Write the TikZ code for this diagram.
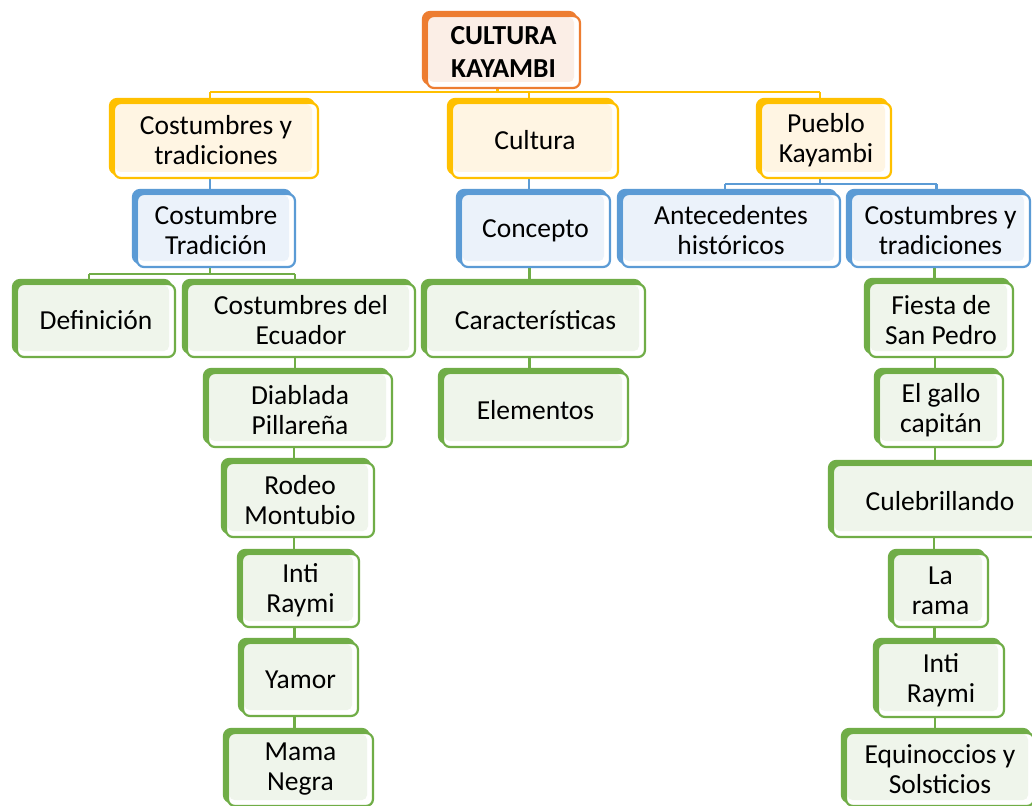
\documentclass[tikz,border=0pt]{standalone}
\usepackage{fontspec}
\setmainfont{Carlito}
\usetikzlibrary{shadows}
\definecolor{cOr}{HTML}{ED7D31}
\definecolor{fOr}{HTML}{FBEEE6}
\definecolor{cYe}{HTML}{FFC000}
\definecolor{fYe}{HTML}{FFF5E3}
\definecolor{cBl}{HTML}{5B9BD5}
\definecolor{fBl}{HTML}{EBF2FA}
\definecolor{cGr}{HTML}{70AD47}
\definecolor{fGr}{HTML}{EFF5EB}
\pgfdeclarelayer{bg}
\pgfdeclarelayer{paper}
\pgfsetlayers{paper,bg,main}
\tikzset{
  box/.style 2 args={draw=#1, line width=2.2pt, fill=white, rounded corners=7pt,
    general shadow={fill=#1, draw=#1, shadow xshift=-4pt, shadow yshift=4pt},
    path picture={\fill[#2, rounded corners=5pt]
      ([shift={(1.5pt,-1.5pt)}]path picture bounding box.north west) rectangle
      ([shift={(-6pt,6pt)}]path picture bounding box.south east);},
    inner sep=0pt, align=center, font=\fontsize{27.5}{30}\selectfont},
  ob/.style={box={cOr}{fOr}},
  yb/.style={box={cYe}{fYe}},
  bb/.style={box={cBl}{fBl}},
  gb/.style={box={cGr}{fGr}},
  ly/.style={draw=cYe, line width=2.6pt},
  lb/.style={draw=cBl, line width=2.4pt},
  lg/.style={draw=cGr, line width=2.4pt},
  sz/.style 2 args={minimum width=#1pt, minimum height=#2pt}
}
\begin{document}
\begin{tikzpicture}[x=1pt,y=-1pt]
\useasboundingbox (0,0) rectangle (1032,805);
\begin{pgfonlayer}{paper}
\fill[white] (0,0) rectangle (1032,805);
\end{pgfonlayer}
% root
\node[ob, sz={153}{72}, font=\fontsize{27.5}{33}\selectfont\bfseries] (ck) at (503.5,52) {CULTURA\\KAYAMBI};
% level 1
\node[yb, sz={204}{75}] (cyt1) at (216,140.5) {Costumbres y\\tradiciones};
\node[yb, sz={166}{75}] (cul) at (535,140.5) {Cultura};
\node[yb, sz={130}{75}] (pk) at (826,140.5) {Pueblo\\Kayambi};
% level 2
\node[bb, sz={158}{73}] (ct) at (216,230.5) {Costumbre\\Tradición};
\node[bb, sz={149}{73}] (con) at (535.5,230.5) {Concepto};
\node[bb, sz={218}{73}] (ant) at (731,230.5) {Antecedentes\\históricos};
\node[bb, sz={179}{73}] (cyt2) at (940.5,230.5) {Costumbres y\\tradiciones};
% green
\node[gb, sz={158}{73}] (def) at (96,320.5) {Definición};
\node[gb, sz={228}{73}] (ced) at (301,320.5) {Costumbres del\\Ecuador};
\node[gb, sz={219}{73}] (car) at (535.5,320.5) {Características};
\node[gb, sz={144}{74}] (fsp) at (941,320) {Fiesta de\\San Pedro};
\node[gb, sz={184}{74}] (dp) at (300,410) {Diablada\\Pillareña};
\node[gb, sz={185}{74}] (ele) at (535.5,410) {Elementos};
\node[gb, sz={124}{74}] (egc) at (941,410) {El gallo\\capitán};
\node[gb, sz={148}{74}] (rm) at (300,500) {Rodeo\\Montubio};
\node[gb, sz={214}{72}] (cb) at (940,501) {Culebrillando};
\node[gb, sz={117}{73}] (ir1) at (300.5,590.5) {Inti\\Raymi};
\node[gb, sz={95}{73}] (lr) at (940.5,590.5) {La\\rama};
\node[gb, sz={115}{73}] (yam) at (300.5,679.5) {Yamor};
\node[gb, sz={126}{74}] (ir2) at (941,680) {Inti\\Raymi};
\node[gb, sz={145}{73}] (mn) at (300.5,769.5) {Mama\\Negra};
\node[gb, sz={188}{73}] (eq) at (940,769.5) {Equinoccios y\\Solsticios};
% connectors
\coordinate (b0) at (0,92);
\coordinate (b1) at (0,184);
\coordinate (b2) at (0,274);
\begin{pgfonlayer}{bg}
\draw[ly] ([xshift=-6pt]ck.south) -- ([xshift=-6pt]ck.south |- b0);
\draw[ly] ([xshift=-6pt]cyt1.north |- b0) -- ([xshift=-6pt]pk.north |- b0);
\foreach \n in {cyt1,cul,pk} \draw[ly] ([xshift=-6pt]\n.north) -- ([xshift=-6pt]\n.north |- b0);
\draw[lb] ([xshift=-6pt]cyt1.south) -- ([xshift=-6pt]cyt1.south |- ct.north);
\draw[lb] ([xshift=-6pt]cul.south) -- ([xshift=-6pt]cul.south |- con.north);
\draw[lb] ([xshift=-6pt]pk.south) -- ([xshift=-6pt]pk.south |- b1);
\draw[lb] ([xshift=-6pt]ant.north |- b1) -- ([xshift=-4pt]cyt2.north |- b1);
\draw[lb] ([xshift=-6pt]ant.north) -- ([xshift=-6pt]ant.north |- b1);
\draw[lb] ([xshift=-4pt]cyt2.north) -- ([xshift=-4pt]cyt2.north |- b1);
\draw[lg] ([xshift=-6pt]ct.south) -- ([xshift=-6pt]ct.south |- b2);
\draw[lg] ([xshift=-7pt]def.north |- b2) -- ([xshift=-6pt]ced.north |- b2);
\draw[lg] ([xshift=-7pt]def.north) -- ([xshift=-7pt]def.north |- b2);
\draw[lg] ([xshift=-6pt]ced.north) -- ([xshift=-6pt]ced.north |- b2);
\draw[lg] ([xshift=-6pt]con.south) -- ([xshift=-6pt]con.south |- car.north);
\draw[lg] ([xshift=-6pt]car.south) -- ([xshift=-6pt]car.south |- ele.north);
\foreach \a/\b in {cyt2/fsp,fsp/egc,egc/cb,cb/lr,lr/ir2,ir2/eq,ced/dp,dp/rm,rm/ir1,ir1/yam,yam/mn}
  \draw[lg] ([xshift=-6pt]\a.south) -- ([xshift=-6pt]\a.south |- \b.north);
\end{pgfonlayer}
\end{tikzpicture}
\end{document}
